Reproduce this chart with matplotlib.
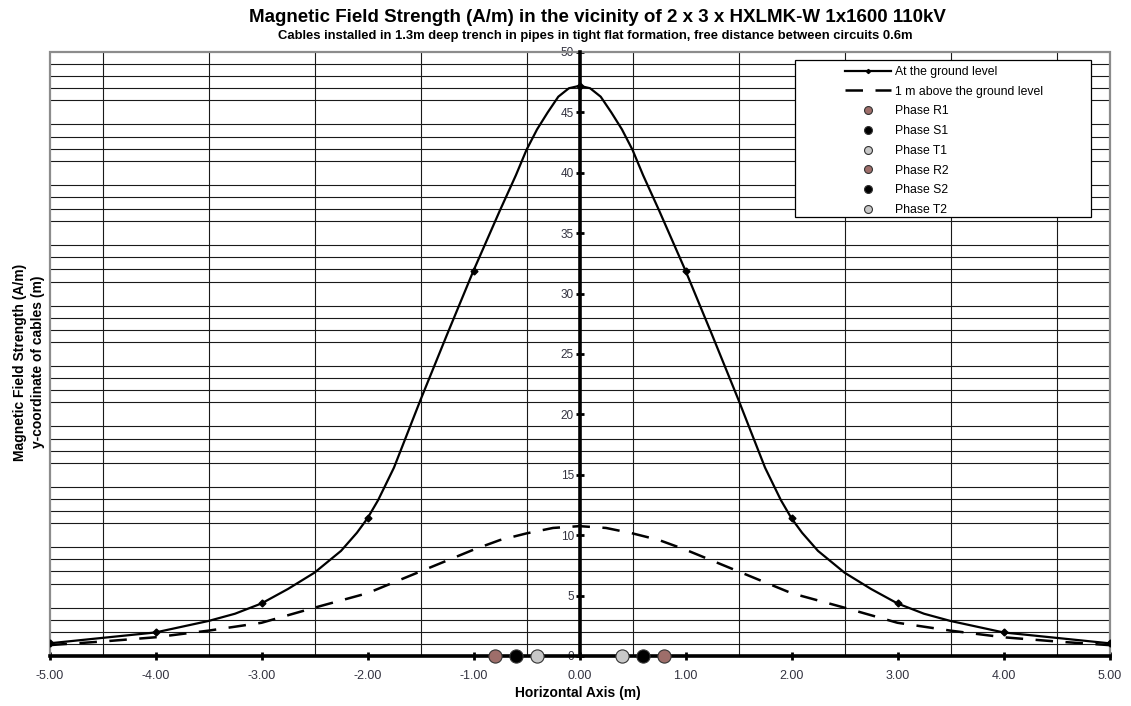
import numpy as np
import matplotlib
matplotlib.use('Agg')
import matplotlib.pyplot as plt

plt.rcParams['font.family'] = ['Liberation Sans', 'DejaVu Sans']

# field strength at the ground level (A/m), left half; curve is symmetric about x = 0
x_ground_left = [-5.0, -4.5, -4.0, -3.5, -3.25, -3.0, -2.75, -2.5, -2.25, -2.1, -2.0, -1.9,
                 -1.75, -1.5, -1.25, -1.0, -0.75, -0.6, -0.5, -0.4, -0.3, -0.2, -0.1]
h_ground_left = [1.05, 1.5, 1.95, 2.9, 3.5, 4.35, 5.55, 6.9, 8.7, 10.2, 11.4, 12.9,
                 15.6, 21.2, 26.6, 31.9, 36.9, 39.8, 41.9, 43.6, 45.0, 46.3, 47.0]
h_ground_peak = 47.2

# field strength 1 m above the ground (A/m), left half
x_above_left = [-5.0, -4.5, -4.0, -3.5, -3.0, -2.5, -2.0, -1.5, -1.0, -0.75, -0.5, -0.25]
h_above_left = [0.9, 1.2, 1.55, 2.1, 2.75, 4.0, 5.2, 7.0, 8.8, 9.6, 10.15, 10.6]
h_above_peak = 10.75

# cable positions (m)
phase_names = ['Phase R1', 'Phase S1', 'Phase T1', 'Phase R2', 'Phase S2', 'Phase T2']
phase_x = [-0.8, -0.6, -0.4, 0.8, 0.6, 0.4]
phase_y = [0, 0, 0, 0, 0, 0]
phase_colors = ['#9E6E6A', '#000000', '#C8C8C8', '#9E6E6A', '#000000', '#C8C8C8']

# mirror the left halves onto the right side
x_ground = x_ground_left + [0.0] + [-v for v in x_ground_left[::-1]]
h_ground = h_ground_left + [h_ground_peak] + h_ground_left[::-1]
x_above = x_above_left + [0.0] + [-v for v in x_above_left[::-1]]
h_above = h_above_left + [h_above_peak] + h_above_left[::-1]

W, H = 1131, 706
fig = plt.figure(figsize=(W / 100, H / 100), dpi=100)
ax = fig.add_axes([49.5 / W, 50 / H, 1060 / W, 604 / H])

ax.set_xlim(-5, 5)
ax.set_ylim(0, 50)

# grid: every 0.5 m horizontally, every 1 A/m vertically
ax.set_xticks(np.arange(-5, 5.01, 0.5), minor=True)
ax.set_yticks(np.arange(0, 50.1, 1), minor=True)
ax.grid(which='minor', color='#1a1a1a', linewidth=0.8)
ax.set_axisbelow(True)

# axes crossing at the origin
ax.spines['left'].set_position(('data', 0))
ax.spines['bottom'].set_position(('data', 0))
for s in ['left', 'bottom']:
    ax.spines[s].set_linewidth(2.6)
    ax.spines[s].set_zorder(4)
for s in ['top', 'right']:
    ax.spines[s].set_visible(False)
frame = plt.Rectangle((0, 0), 1, 1, transform=ax.transAxes, fill=False,
                      edgecolor='#8c8c8c', linewidth=1.6, clip_on=False, zorder=1)
ax.add_patch(frame)

ax.set_xticks(np.arange(-5, 5.01, 1))
ax.set_xticklabels(['%.2f' % v for v in np.arange(-5, 5.01, 1)])
ax.set_yticks(np.arange(0, 50.1, 5))
ax.tick_params(which='major', direction='inout', length=6, width=2, labelsize=9,
               labelcolor='#333340')
ax.tick_params(which='minor', length=0)
ax.tick_params(axis='x', pad=7)
ax.tick_params(axis='y', pad=1, labelsize=8.5)

marks_g = [i for i, v in enumerate(x_ground) if float(v).is_integer()]
ax.plot(x_ground, h_ground, color='black', linewidth=1.6, marker='D', markersize=3.5,
        markevery=marks_g, label='At the ground level', zorder=3)
ax.plot(x_above, h_above, color='black', linewidth=1.8, dashes=(7, 5),
        label='1 m above the ground level', zorder=3)

for name, px, py, c in zip(phase_names, phase_x, phase_y, phase_colors):
    ax.plot(px, py, linestyle='none', marker='o', markersize=9.5, color=c,
            markeredgecolor='#333333', markeredgewidth=0.8, label=name, clip_on=False, zorder=5)

# legend box is drawn separately so the keys sit well inside it
box = plt.Rectangle((795 / W, 1 - 217 / H), 296 / W, 157 / H, transform=fig.transFigure,
                    facecolor='white', edgecolor='black', linewidth=0.9, clip_on=False, zorder=6)
ax.add_patch(box)
leg = ax.legend(loc='upper left', bbox_to_anchor=(845 / W, 1 - 66 / H),
                bbox_transform=fig.transFigure, fontsize=8.8, frameon=False,
                handlelength=3.8, handletextpad=0.3, labelspacing=0.63,
                borderpad=0, borderaxespad=0, markerscale=0.6)
leg.set_zorder(7)

fig.text(597 / W, 1 - 17 / H, 'Magnetic Field Strength (A/m) in the vicinity of 2 x 3 x HXLMK-W 1x1600 110kV',
         ha='center', va='center', fontsize=13.5, fontweight='bold')
fig.text(595 / W, 1 - 36 / H, 'Cables installed in 1.3m deep trench in pipes in tight flat formation, free distance between circuits 0.6m',
         ha='center', va='center', fontsize=9.4, fontweight='bold')
fig.text(20 / W, 1 - 362 / H, 'Magnetic Field Strength (A/m)', rotation=90,
         ha='center', va='center', fontsize=10, fontweight='bold')
fig.text(38 / W, 1 - 362 / H, 'y-coordinate of cables (m)', rotation=90,
         ha='center', va='center', fontsize=10, fontweight='bold')
fig.text(578 / W, 1 - 693 / H, 'Horizontal Axis (m)', ha='center', va='center',
         fontsize=10, fontweight='bold')

fig.savefig('out.png', dpi=100)
